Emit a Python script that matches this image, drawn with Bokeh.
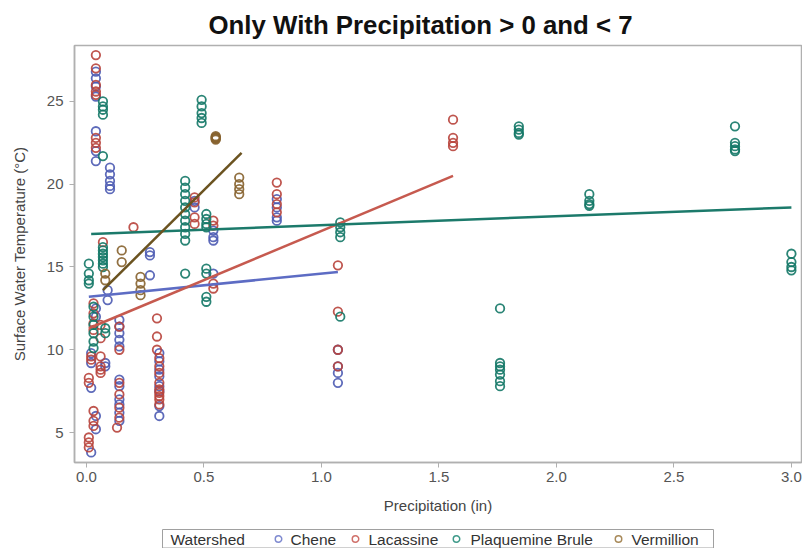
from bokeh.plotting import figure
from bokeh.layouts import column
from bokeh.models import Title, FixedTicker, Range1d, ColumnDataSource
from bokeh.core.properties import value
from bokeh.embed import file_html
from bokeh.resources import INLINE

# ---------------- data ----------------
series_names = ["Chene", "Lacassine", "Plaquemine Brule", "Vermillion"]

chene_x = [0.04]*7 + [0.10]*5 + [0.27]*3 + [0.09]*2 + [0.14]*5 + [0.31]*8 + [0.02]*2 + [0.08]*2 + [0.02] \
    + [0.14]*6 + [0.04]*2 + [0.02] + [0.46]*2 + [0.54]*3 + [0.81]*4 + [0.54] + [1.07]*4 + [0.04]*2
chene_y = [26.8, 26.4, 25.9, 25.3, 23.2, 22.0, 21.4,
           21.0, 20.6, 20.2, 19.9, 19.7,
           15.9, 15.7, 14.5,
           13.6, 13.0,
           11.8, 11.4, 11.0, 10.6, 10.2,
           9.8, 9.3, 8.8, 8.4, 7.8, 7.5, 6.6, 6.0,
           9.8, 9.2,
           9.2, 9.0,
           7.7,
           8.2, 7.8, 7.0, 6.7, 6.2, 5.7,
           6.0, 5.2,
           3.8,
           19.0, 18.6,
           17.2, 16.8, 16.6,
           19.1, 18.6, 18.0, 17.8,
           14.6,
           10.0, 9.0, 8.6, 8.0,
           12.5, 12.0]

lacassine_x = [0.04]*8 + [0.20] + [0.07] + [0.03]*4 + [0.30]*3 + [0.31]*9 + [0.02]*2 + [0.06]*4 + [0.01]*2 \
    + [0.14]*6 + [0.13] + [0.03]*3 + [0.01]*3 + [0.46]*4 + [0.54]*4 + [0.81]*4 + [1.07]*4 + [1.56]*4 + [0.06]*2
lacassine_y = [27.8, 27.0, 26.0, 25.6, 25.4, 22.8, 22.5, 22.2,
               17.4,
               16.5,
               12.8, 12.2, 11.6, 11.2,
               11.9, 10.8, 10.0,
               9.5, 9.0, 8.6, 8.0, 7.6, 7.4, 7.2, 7.0, 6.7,
               9.6, 9.4,
               9.6, 9.0, 8.8, 8.6,
               8.3, 8.0,
               11.4, 10.0, 8.0, 7.3, 6.5, 5.9,
               5.3,
               6.3, 5.7, 5.4,
               4.7, 4.4, 4.1,
               19.2, 18.9, 18.0, 17.6,
               17.8, 17.5, 14.0, 13.7,
               20.1, 19.4, 18.8, 18.3,
               15.1, 12.3, 10.0, 9.0,
               23.9, 22.8, 22.5, 22.3,
               11.5, 10.7]

plaquemine_x = [0.07]*5 + [0.07]*7 + [0.01]*4 + [0.03]*6 + [0.08]*2 + [0.42]*11 + [0.49]*5 + [0.51]*8 \
    + [1.08]*5 + [1.76]*7 + [1.84]*4 + [2.14]*4 + [2.76]*5 + [3.0]*4
plaquemine_y = [25.0, 24.7, 24.5, 24.2, 21.7,
                16.2, 16.0, 15.8, 15.6, 15.4, 15.2, 15.0,
                15.2, 14.6, 14.2, 14.0,
                12.6, 12.0, 11.5, 11.0, 10.5, 10.1,
                11.3, 11.0,
                20.2, 19.8, 19.4, 19.0, 18.6, 18.2, 17.8, 17.4, 17.0, 16.6, 14.6,
                25.1, 24.7, 24.3, 24.0, 23.7,
                18.2, 17.9, 17.6, 17.4, 14.9, 14.6, 13.2, 12.9,
                17.7, 17.4, 17.1, 16.8, 12.0,
                12.5, 9.2, 9.0, 8.8, 8.5, 8.1, 7.8,
                23.5, 23.3, 23.1, 23.0,
                19.4, 19.0, 18.8, 18.7,
                23.5, 22.5, 22.3, 22.1, 22.0,
                15.8, 15.3, 15.0, 14.8]

vermillion_x = [0.15]*2 + [0.08]*2 + [0.23]*4 + [0.55]*5 + [0.65]*4
vermillion_y = [16.0, 15.3,
                14.6, 14.2,
                14.4, 14.0, 13.6, 13.3,
                22.9, 22.85, 22.8, 22.75, 22.7,
                20.4, 20.0, 19.7, 19.4]

# regression line end points
fit_x0 = [0.01, 0.01, 0.02, 0.07]
fit_y0 = [13.2, 11.3, 17.0, 13.6]
fit_x1 = [1.07, 1.56, 3.00, 0.66]
fit_y1 = [14.7, 20.5, 18.6, 21.9]

x_ticks = [0.0, 0.5, 1.0, 1.5, 2.0, 2.5, 3.0]
y_ticks = [5, 10, 15, 20, 25]
legend_title = "Watershed"

marker_colors = ["#4d5bb2", "#b8443c", "#147867", "#86622e"]
line_colors = ["#5d6cc4", "#c65a4f", "#1c7a6b", "#6b5320"]
legend_marker_colors = ["#7f8ad0", "#d0706a", "#3f9a8a", "#a88a5a"]

FONT = "Liberation Sans"

# ---------------- main figure ----------------
p = figure(width=802, height=520, output_backend="svg", toolbar_location=None,
           x_range=Range1d(-0.051, 3.043), y_range=Range1d(3.19, 28.38),
           min_border_left=74, min_border_right=1, min_border_top=45, min_border_bottom=58)
p.background_fill_color = "white"
p.border_fill_color = "white"
p.outline_line_color = "#b0b0b0"
p.outline_line_width = 1.5
p.xgrid.visible = False
p.ygrid.visible = False

p.title = Title(text="Only With Precipitation > 0 and < 7", align="left", offset=134,
                text_font=FONT, text_font_style="bold", text_font_size="25.8px",
                text_color="#111111", standoff=13)

for ax in (p.xaxis[0], p.yaxis[0]):
    ax.axis_line_color = "#b0b0b0"
    ax.axis_line_width = 1.5
    ax.major_tick_line_color = "#b0b0b0"
    ax.major_tick_out = 5
    ax.major_tick_in = 0
    ax.minor_tick_line_color = None
    ax.major_label_text_font = FONT
    ax.major_label_text_font_size = "15px"
    ax.major_label_text_color = "#555555"
    ax.axis_label_text_font = FONT
    ax.axis_label_text_font_size = "15px"
    ax.axis_label_text_font_style = "normal"
    ax.axis_label_text_color = "#444444"

p.xaxis.ticker = FixedTicker(ticks=x_ticks)
p.xaxis.major_label_overrides = {t: f"{t:.1f}" for t in x_ticks}
p.yaxis.ticker = FixedTicker(ticks=y_ticks)
p.xaxis.axis_label = "Precipitation (in)"
p.yaxis.axis_label = "Surface Water Temperature (°C)"
p.xaxis.major_label_standoff = 4
p.xaxis.axis_label_standoff = 12
p.yaxis.major_label_standoff = 6
p.yaxis.axis_label_standoff = 16

xs = [chene_x, lacassine_x, plaquemine_x, vermillion_x]
ys = [chene_y, lacassine_y, plaquemine_y, vermillion_y]

for i in range(4):
    src = ColumnDataSource(dict(x=xs[i], y=ys[i]))
    p.scatter("x", "y", source=src, marker="circle", size=8.5, fill_color=None,
              line_color=marker_colors[i], line_width=1.8, line_alpha=0.9)

for i in range(4):
    p.line([fit_x0[i], fit_x1[i]], [fit_y0[i], fit_y1[i]], line_color=line_colors[i], line_width=2.5)

# ---------------- legend strip (screen-pixel coordinates) ----------------
# The column layout aligns this strip's frame with the main frame (74..801 px),
# so its x range is given in page pixels over that span.
lg = figure(width=802, height=28, output_backend="svg", toolbar_location=None,
            x_range=Range1d(74, 801), y_range=Range1d(0, 28),
            x_axis_location=None, y_axis_location=None,
            min_border_left=74, min_border_right=1, min_border_top=0, min_border_bottom=0)
lg.grid.visible = False
lg.outline_line_color = None
lg.background_fill_color = "white"
lg.border_fill_color = "white"

box_left, box_right, box_bottom, box_top = 162, 713, 0.5, 19
lg.quad(left=[box_left], right=[box_right], bottom=[box_bottom], top=[box_top],
        fill_color="white", line_color="#a0a0a0", line_width=1)

text_y = 9.5
lg.text(x=[170], y=[text_y], text=[legend_title], text_font=value(FONT), text_font_size="15.5px",
        text_color="#333333", text_baseline="middle", text_align="left")

marker_x = [278, 355, 456, 618]
label_x = [290, 368, 470, 631]
lg.scatter(x=marker_x, y=[text_y]*4, marker="circle", size=6.5, fill_color=None,
           line_color=legend_marker_colors, line_width=1.5)
lg.text(x=label_x, y=[text_y]*4, text=series_names, text_font=value(FONT), text_font_size="15.5px",
        text_color="#333333", text_baseline="middle", text_align="left")

layout = column(p, lg, spacing=0)
open("out.html", "w").write(file_html(layout, INLINE))
